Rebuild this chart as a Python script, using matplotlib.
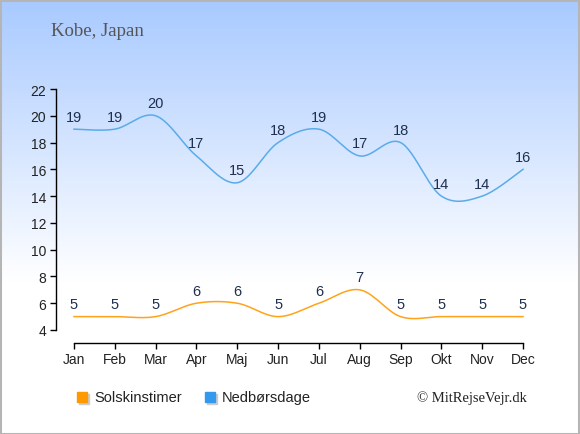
import numpy as np
import matplotlib
matplotlib.use("Agg")
import matplotlib.pyplot as plt
from matplotlib.patches import Rectangle

# Data
months = ["Jan", "Feb", "Mar", "Apr", "Maj", "Jun", "Jul", "Aug", "Sep", "Okt", "Nov", "Dec"]
sunshine_hours = [5, 5, 5, 6, 6, 5, 6, 7, 5, 5, 5, 5]
rain_days = [19, 19, 20, 17, 15, 18, 19, 17, 18, 14, 14, 16]

SUN_COLOR = "#ffa31a"
RAIN_COLOR = "#5aabea"
LABEL_COLOR = "#1f2f4f"


def smooth(xs, ys, n=30):
    # Catmull-Rom style path through the points
    xs = np.asarray(xs, float)
    ys = np.asarray(ys, float)
    px = np.concatenate([[xs[0]], xs, [xs[-1]]])
    py = np.concatenate([[ys[0]], ys, [ys[-1]]])
    out_x, out_y = [], []
    for i in range(1, len(px) - 2):
        t = np.linspace(0, 1, n, endpoint=False)
        x0, x1, x2, x3 = px[i - 1:i + 3]
        y0, y1, y2, y3 = py[i - 1:i + 3]
        mx1, mx2 = (x2 - x0) / 2, (x3 - x1) / 2
        my1, my2 = (y2 - y0) / 2, (y3 - y1) / 2
        h00 = 2 * t**3 - 3 * t**2 + 1
        h10 = t**3 - 2 * t**2 + t
        h01 = -2 * t**3 + 3 * t**2
        h11 = t**3 - t**2
        out_x.append(h00 * x1 + h10 * mx1 + h01 * x2 + h11 * mx2)
        out_y.append(h00 * y1 + h10 * my1 + h01 * y2 + h11 * my2)
    out_x.append([xs[-1]])
    out_y.append([ys[-1]])
    return np.concatenate(out_x), np.concatenate(out_y)


W, H = 580, 435
fig = plt.figure(figsize=(W / 100, H / 100), dpi=100)

# background gradient
bg = fig.add_axes([0, 0, 1, 1], zorder=-10)
grad = np.linspace(0, 1, 256)
grad = np.clip(grad / 0.65, 0, 1)
top = np.array([0.66, 0.79, 1.0])
rgb = top[None, :] * (1 - grad[:, None]) + np.ones(3)[None, :] * grad[:, None]
bg.imshow(rgb[:, None, :], aspect="auto", extent=[0, 1, 0, 1], origin="upper")
bg.set_xlim(0, 1)
bg.set_ylim(0, 1)
bg.axis("off")
bg.add_patch(Rectangle((0.0008, 0.001), 0.9975, 0.997, fill=False, edgecolor="#b5b5b5", lw=2.2,
                       transform=bg.transAxes))

# plot area: left spine at x=56, Jan at 74, Dec at 523; y 22 at 90, 4 at 331
left, right = 56, 523
top_px, bot_px = 90, 331
ax = fig.add_axes([left / W, 1 - bot_px / H, (right - left) / W, (bot_px - top_px) / H])
ax.patch.set_alpha(0)
x = np.arange(len(months))
a = -0.441
ax.set_xlim(a, 11)
ax.set_ylim(4, 22)

sx, sy = smooth(x, sunshine_hours)
rx, ry = smooth(x, rain_days)
ax.plot(sx, sy, color=SUN_COLOR, lw=1.1, clip_on=False)
ax.plot(rx, ry, color=RAIN_COLOR, lw=1.1, clip_on=False)

for xi, v in zip(x, sunshine_hours):
    ax.annotate(str(v), (xi, v), xytext=(0, 4), textcoords="offset points", ha="center",
                va="bottom", fontsize=10.5, color=LABEL_COLOR, family="Liberation Sans")
for xi, v in zip(x, rain_days):
    ax.annotate(str(v), (xi, v), xytext=(0, 4), textcoords="offset points", ha="center",
                va="bottom", fontsize=10.5, color=LABEL_COLOR, family="Liberation Sans")

ax.spines["top"].set_visible(False)
ax.spines["right"].set_visible(False)
ax.spines["bottom"].set_position(("outward", 9))
ax.spines["bottom"].set_bounds(0, 11)
ax.spines["left"].set_bounds(4, 22)
for s in ("left", "bottom"):
    ax.spines[s].set_linewidth(1.0)
    ax.spines[s].set_color("black")

ax.set_xticks(x)
ax.set_xticklabels(months)
ax.set_yticks(np.arange(4, 23, 2))
ax.tick_params(axis="both", direction="out", length=4, width=1, labelsize=10,
               colors="black", pad=3)
for lbl in ax.get_xticklabels() + ax.get_yticklabels():
    lbl.set_family("Liberation Sans")
    lbl.set_color("#222222")

# title and credit
fig.text(51 / W, 1 - 32 / H, "Kobe, Japan", family="Liberation Serif", fontsize=13.5,
         color="#555555", va="center", ha="left")
fig.text(527 / W, 1 - 398 / H, "© MitRejseVejr.dk", family="Liberation Serif", fontsize=10.5,
         color="#222222", va="center", ha="right")

# legend
for x0, col, name in [(77, "#ff9900", "Solskinstimer"), (205, "#3399ee", "Nedbørsdage")]:
    bg.add_patch(Rectangle(((x0 + 1.5) / W, 1 - 404.5 / H), 10 / W, 10 / H, color="#cccccc",
                           transform=bg.transAxes))
    bg.add_patch(Rectangle((x0 / W, 1 - 403 / H), 10 / W, 10 / H, color=col,
                           transform=bg.transAxes))
    fig.text((x0 + 17) / W, 1 - 398 / H, name, family="Liberation Sans", fontsize=10.5,
             color="#222222", va="center", ha="left")

fig.savefig("out.png", dpi=100)
